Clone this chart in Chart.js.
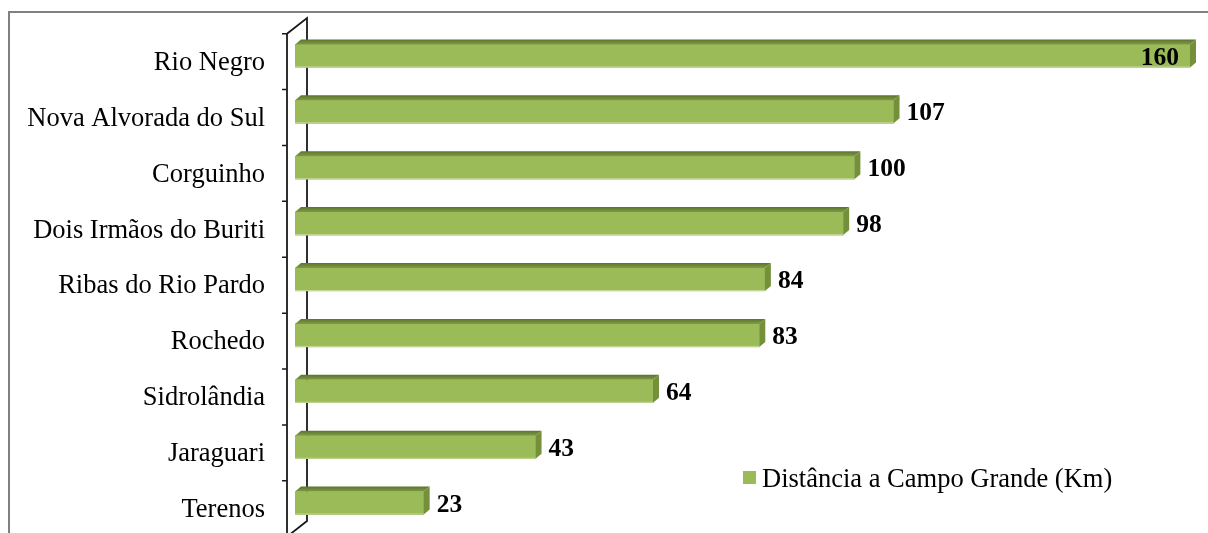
<!DOCTYPE html>
<html>
<head>
<meta charset="utf-8">
<script src="https://cdn.jsdelivr.net/npm/chart.js@4.4.1/dist/chart.umd.min.js"></script>
<style>
    html, body { margin: 0; padding: 0; background: #fff; }
    canvas { display: block; }
</style>
</head>
<body>
<canvas id="distChart" width="1208" height="533"></canvas>
<script>
// -- Chart data --
const municipios = ['Rio Negro', 'Nova Alvorada do Sul', 'Corguinho', 'Dois Irmãos do Buriti',
    'Ribas do Rio Pardo', 'Rochedo', 'Sidrolândia', 'Jaraguari', 'Terenos'];
const distancias = [160, 107, 100, 98, 84, 83, 64, 43, 23];
const seriesLabel = 'Distância a Campo Grande (Km)';

const barColor = '#9BBB59';
const FONT = '"Liberation Serif", "Times New Roman", serif';

// depth of the 3d bars (px)
const DX = 6, DY = 5;

// -- Plugins --
// Outer border + 3d wall behind the bars
const wallPlugin = {
    id: 'wall',
    beforeDatasetsDraw(chart) {
        const ctx = chart.ctx;
        const area = chart.chartArea;
        const step = (area.bottom - area.top) / municipios.length;

        ctx.save();
        // chart border (only top and left are visible in the picture)
        ctx.strokeStyle = '#808080';
        ctx.lineWidth = 2;
        ctx.strokeRect(9, 12, 1400, 800);

        // wall: front axis line, back line and diagonals
        const fx = area.left - 8, bx = area.left + 12;
        const fTop = area.top + 5.7, fBot = area.bottom + 5.7;
        const bTop = fTop - 15.7, bBot = fBot - 15.7;
        ctx.strokeStyle = '#1a1a1a';
        ctx.lineWidth = 1.8;
        ctx.beginPath();
        ctx.moveTo(fx, fBot); ctx.lineTo(fx, fTop); ctx.lineTo(bx, bTop); ctx.lineTo(bx, bBot); ctx.lineTo(fx, fBot);
        ctx.stroke();

        // tick marks at category boundaries
        ctx.lineWidth = 1.5;
        ctx.beginPath();
        for (let i = 0; i <= municipios.length; i++) {
            const y = fTop + i * step;
            ctx.moveTo(fx - 5, y);
            ctx.lineTo(fx, y);
        }
        ctx.stroke();
        ctx.restore();
    },
    // top and side faces of the bars, then the texts
    afterDatasetsDraw(chart) {
        const ctx = chart.ctx;
        const meta = chart.getDatasetMeta(0);
        ctx.save();
        meta.data.forEach((bar, i) => {
            const top = bar.y - bar.height / 2;
            const bottom = bar.y + bar.height / 2;
            const left = bar.base, right = bar.x;

            // top face
            const g = ctx.createLinearGradient(0, top - DY, 0, top);
            g.addColorStop(0, '#5C742C');
            g.addColorStop(1, '#7F9B46');
            ctx.fillStyle = g;
            ctx.beginPath();
            ctx.moveTo(left, top); ctx.lineTo(left + DX, top - DY);
            ctx.lineTo(right + DX, top - DY); ctx.lineTo(right, top);
            ctx.closePath();
            ctx.fill();

            // side face
            ctx.fillStyle = '#74903B';
            ctx.beginPath();
            ctx.moveTo(right, top); ctx.lineTo(right + DX, top - DY);
            ctx.lineTo(right + DX, bottom - DY); ctx.lineTo(right, bottom);
            ctx.closePath();
            ctx.fill();

            // light lower edge of the front face
            ctx.fillStyle = '#C5D89C';
            ctx.fillRect(left, bottom - 1, right - left, 1);

            // value label
            ctx.font = 'bold 25.5px ' + FONT;
            ctx.fillStyle = '#000';
            ctx.textBaseline = 'middle';
            const txt = String(distancias[i]);
            const w = ctx.measureText(txt).width;
            if (right + 13 + w > chart.width - 4) {
                ctx.textAlign = 'right';
                ctx.fillText(txt, right - 11, bar.y + 2);
            } else {
                ctx.textAlign = 'left';
                ctx.fillText(txt, right + 13, bar.y + 2);
            }

            // category label (sits on the front axis, a bit lower than the bar)
            ctx.font = '26.5px ' + FONT;
            ctx.textAlign = 'right';
            ctx.fillText(municipios[i], 265, bar.y + 7);
        });
        ctx.restore();
    },
    // legend inside the plot, bottom right
    afterDraw(chart) {
        const ctx = chart.ctx;
        ctx.save();
        ctx.fillStyle = barColor;
        ctx.fillRect(743, 471, 13, 13);
        ctx.fillStyle = '#000';
        ctx.font = '26.5px ' + FONT;
        ctx.textAlign = 'left';
        ctx.textBaseline = 'middle';
        ctx.fillText(seriesLabel, 762, 480);
        ctx.restore();
    }
};

// -- Chart --
function createBarChart(canvasId) {
    const ctx = document.getElementById(canvasId).getContext('2d');
    new Chart(ctx, {
        type: 'bar',
        data: {
            labels: municipios,
            datasets: [{
                label: seriesLabel,
                data: distancias,
                backgroundColor: barColor,
                borderWidth: 0,
                barThickness: 23
            }]
        },
        options: {
            indexAxis: 'y',
            responsive: false,
            animation: false,
            layout: {
                padding: { left: 295, right: 18, top: 28, bottom: 2 }
            },
            scales: {
                x: { display: false, min: 0, max: 160 },
                y: { display: false }
            },
            plugins: {
                legend: { display: false },
                tooltip: { enabled: false }
            }
        },
        plugins: [wallPlugin]
    });
}

createBarChart('distChart');
</script>
</body>
</html>
